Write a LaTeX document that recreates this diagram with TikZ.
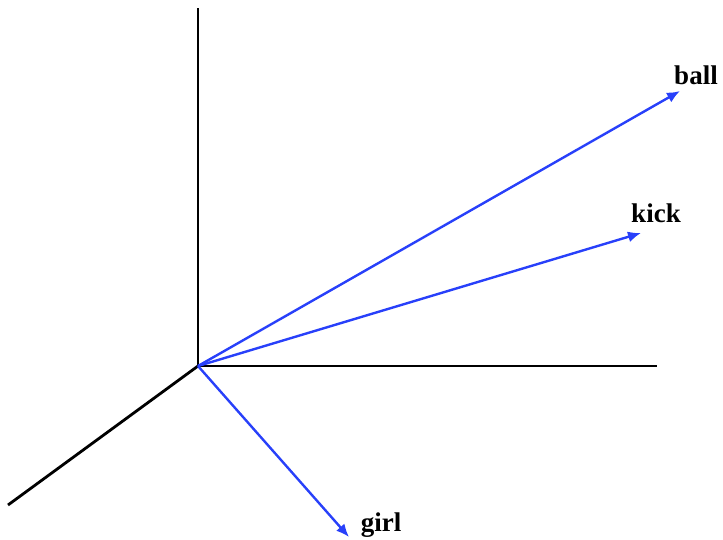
\documentclass[tikz,border=0pt]{standalone}
\usepackage{fontspec}
\setmainfont{Liberation Serif}
\usetikzlibrary{arrows.meta}
\definecolor{vecblue}{RGB}{40,64,250}
\begin{document}
\begin{tikzpicture}[
    x=1pt, y=-1pt,
    axis/.style={draw, black, line width=2.8pt},
    vec/.style={draw, vecblue, line width=2.4pt, -{Latex[length=13pt, width=11pt]}},
    word/.style={font=\fontsize{27}{32}\selectfont\bfseries}
]
  \useasboundingbox (0,0) rectangle (723,539);
  % --- axes -------------------------------------------------------------
  \coordinate (o) at (198,366);
  \coordinate (ytop) at (198,8);
  \coordinate (xend) at (657,366);
  \coordinate (zend) at (8,505);
  \draw[axis] (o) -- (ytop);
  \draw[axis] (o) -- (xend);
  \draw[axis] (o) -- (zend);
  % --- word vectors -----------------------------------------------------
  \coordinate (ballTip) at (680,91);
  \coordinate (kickTip) at (641,233);
  \coordinate (girlTip) at (349,537);
  \draw[vec] (o) -- (ballTip);
  \draw[vec] (o) -- (kickTip);
  \draw[vec] (o) -- (girlTip);
  \node[word] (ball) at (696,75) {ball};
  \node[word] (kick) at (656,213) {kick};
  \node[word] (girl) at (381,525) {girl};
\end{tikzpicture}
\end{document}
